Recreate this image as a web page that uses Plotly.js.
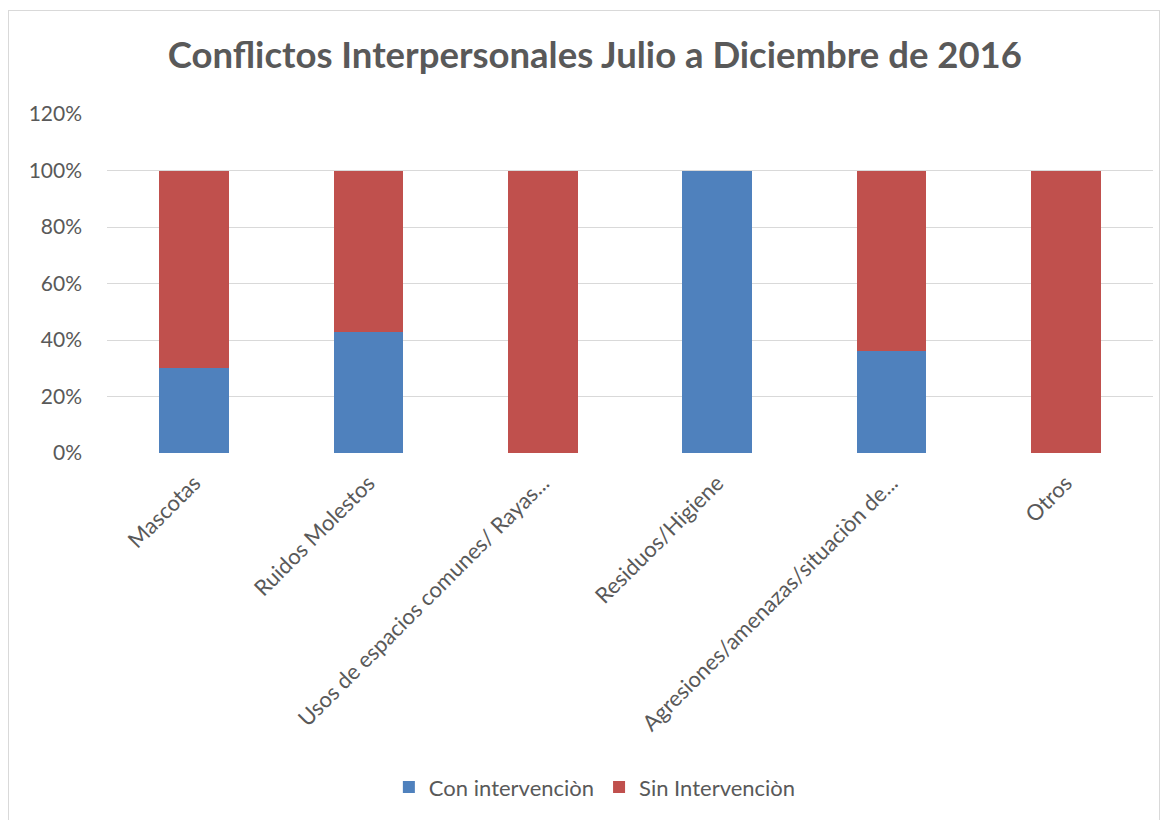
<!DOCTYPE html>
<html>
<head>
<meta charset="utf-8">
<script src="https://cdn.plot.ly/plotly-3.0.1.min.js"></script>
<style>
  html, body { margin: 0; padding: 0; background: #ffffff; }
  #wrap { position: absolute; left: 8px; top: 10px; width: 1152px; height: 830px; border: 1px solid #d9d9d9; box-sizing: border-box; }
  #chart { position: absolute; left: 0; top: 0; width: 1171px; height: 820px; }
</style>
</head>
<body>
<div id="wrap"></div>
<div id="chart"></div>
<script>
const categories = [
  "Mascotas",
  "Ruidos Molestos",
  "Usos de espacios comunes/ Rayas...",
  "Residuos/Higiene",
  "Agresiones/amenazas/situaciòn de...",
  "Otros"
];
const conIntervencion = [0.30, 0.43, 0.00, 1.00, 0.36, 0.00];
const sinIntervencion = [0.70, 0.57, 1.00, 0.00, 0.64, 1.00];
const seriesNames = ["Con intervenciòn", "Sin Intervenciòn"];
const tickVals = [0, 0.2, 0.4, 0.6, 0.8, 1.0, 1.2];
const tickText = ["0%", "20%", "40%", "60%", "80%", "100%", "120%"];

const FONT = "Lato, 'Open Sans', 'Liberation Sans', sans-serif";
const GREY = "#595959";

const traces = [
  {
    type: "bar", name: seriesNames[0], x: categories, y: conIntervencion,
    marker: { color: "#4f81bd" }, width: 0.4, hoverinfo: "x+y"
  },
  {
    type: "bar", name: seriesNames[1], x: categories, y: sinIntervencion,
    marker: { color: "#c0504d" }, width: 0.4, hoverinfo: "x+y"
  }
];

const layout = {
  width: 1171, height: 820,
  paper_bgcolor: "rgba(0,0,0,0)", plot_bgcolor: "rgba(0,0,0,0)",
  barmode: "stack",
  margin: { l: 107, r: 18, t: 114, b: 367 },
  font: { family: FONT, color: GREY, size: 20 },
  title: {
    text: "<b>Conflictos Interpersonales Julio a Diciembre de 2016</b>",
    font: { family: FONT, size: 36.5, color: GREY },
    x: 0.508, xref: "container", xanchor: "center",
    y: 1 - 55 / 820, yref: "container", yanchor: "middle"
  },
  xaxis: {
    type: "category",
    tickangle: -45,
    tickfont: { family: FONT, size: 22, color: GREY },
    showgrid: false, zeroline: false,
    showline: false, ticks: "",
    ticklabelstandoff: 12
  },
  yaxis: {
    range: [0, 1.2],
    tickvals: tickVals, ticktext: tickText,
    tickfont: { family: FONT, size: 21, color: GREY },
    showgrid: true, gridcolor: "#d9d9d9", gridwidth: 1,
    zeroline: false, showline: false, ticks: "",
    ticklabelstandoff: 24
  },
  showlegend: true,
  legend: {
    orientation: "h", x: 0.508, xref: "container", xanchor: "center",
    y: 0.04, yref: "container", yanchor: "middle",
    font: { family: FONT, size: 22, color: GREY },
    itemsizing: "constant", traceorder: "normal"
  }
};

Plotly.newPlot("chart", traces, layout, { displayModeBar: false, staticPlot: true });
</script>
</body>
</html>
